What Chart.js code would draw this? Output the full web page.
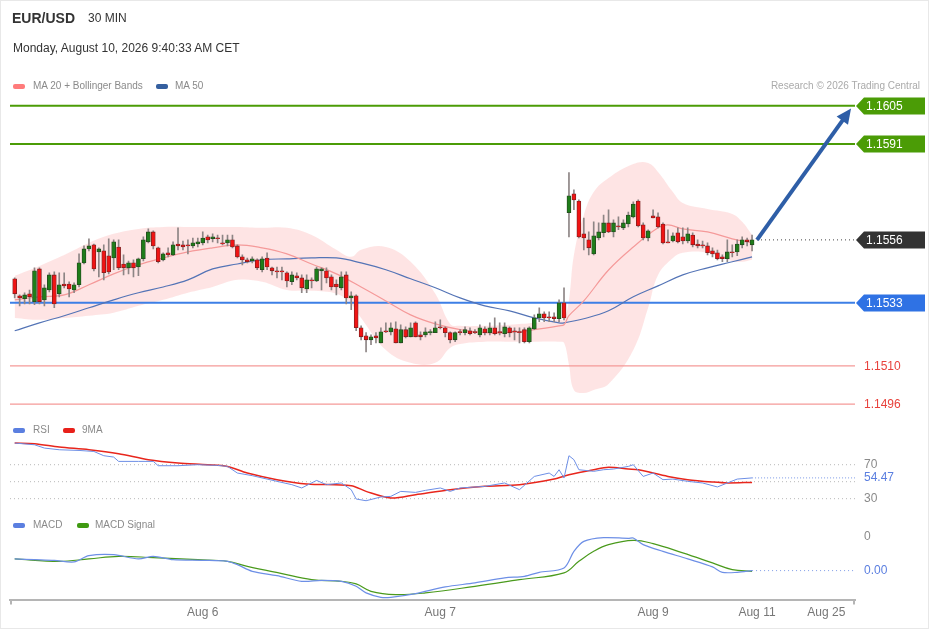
<!DOCTYPE html>
<html><head><meta charset="utf-8">
<script src="https://cdn.jsdelivr.net/npm/chart.js@4.4.1/dist/chart.umd.min.js"></script>
<style>
html,body{margin:0;padding:0;background:#fff;}
#wrap{position:relative;width:929px;height:629px;overflow:hidden;font-family:'Liberation Sans',Arial,sans-serif;}
#frame{position:absolute;left:0;top:0;width:929px;height:629px;box-sizing:border-box;border:1px solid #e8e8e8;pointer-events:none;}
canvas{position:absolute;left:0;top:0;}
.t{position:absolute;white-space:nowrap;line-height:1;}
.sw{position:absolute;width:12px;height:5px;border-radius:2px;}
.lg{position:absolute;white-space:nowrap;font-size:10px;color:#8a8a8a;line-height:1;}
</style></head>
<body><div id="wrap">
<canvas id="c" width="929" height="629"></canvas>
<div class="t" style="left:12px;top:11px;font-size:14px;font-weight:bold;color:#333;">EUR/USD</div>
<div class="t" style="left:88px;top:12px;font-size:12px;color:#333;">30 MIN</div>
<div class="t" style="left:13px;top:42px;font-size:12px;color:#333;">Monday, August 10, 2026 9:40:33 AM CET</div>
<div class="sw" style="left:13px;top:84px;background:#ff7b7b;"></div>
<div class="lg" style="left:33px;top:81px;">MA 20 + Bollinger Bands</div>
<div class="sw" style="left:156px;top:84px;background:#355f9f;"></div>
<div class="lg" style="left:175px;top:81px;">MA 50</div>
<div class="lg" style="right:9px;top:81px;color:#aaa;">Research © 2026 Trading Central</div>
<div class="sw" style="left:13px;top:428px;background:#5b7fe0;"></div>
<div class="lg" style="left:33px;top:425px;">RSI</div>
<div class="sw" style="left:63px;top:428px;background:#e8201a;"></div>
<div class="lg" style="left:82px;top:425px;">9MA</div>
<div class="sw" style="left:13px;top:523px;background:#5b7fe0;"></div>
<div class="lg" style="left:33px;top:520px;">MACD</div>
<div class="sw" style="left:77px;top:523px;background:#3f9a12;"></div>
<div class="lg" style="left:95px;top:520px;">MACD Signal</div>
<div id="frame"></div>
</div>
<script>
// ---- candle data (30 min bars, index 0..149) ----
const opens=[1.15418,1.15356,1.15345,1.15363,1.15334,1.15454,1.15341,1.15377,1.15432,1.15363,
1.15399,1.15399,1.15377,1.15396,1.15476,1.15527,1.15542,1.15516,1.15520,1.15502,
1.15494,1.15534,1.15472,1.15458,1.15476,1.15461,1.15491,1.15553,1.15589,1.15531,
1.15487,1.15513,1.15505,1.15545,1.15542,1.15542,1.15538,1.15545,1.15549,1.15571,
1.15564,1.15567,1.15549,1.15549,1.15560,1.15538,1.15498,1.15487,1.15483,1.15487,
1.15451,1.15494,1.15458,1.15447,1.15447,1.15440,1.15407,1.15429,1.15421,1.15381,
1.15414,1.15410,1.15447,1.15447,1.15425,1.15399,1.15385,1.15432,1.15348,1.15356,
1.15239,1.15210,1.15195,1.15210,1.15184,1.15228,1.15224,1.15235,1.15184,1.15232,
1.15206,1.15257,1.15213,1.15213,1.15221,1.15221,1.15242,1.15239,1.15221,1.15195,
1.15224,1.15221,1.15228,1.15224,1.15213,1.15235,1.15221,1.15239,1.15224,1.15217,
1.15239,1.15228,1.15224,1.15232,1.15188,1.15235,1.15275,1.15290,1.15279,1.15279,
1.15272,1.15330,1.15659,1.15728,1.15702,1.15582,1.15560,1.15509,1.15567,1.15586,
1.15622,1.15589,1.15611,1.15604,1.15618,1.15644,1.15702,1.15615,1.15567,1.15648,
1.15644,1.15618,1.15553,1.15556,1.15586,1.15571,1.15556,1.15578,1.15545,1.15542,
1.15538,1.15520,1.15513,1.15498,1.15491,1.15516,1.15516,1.15542,1.15560,1.15542];
const highs=[1.15421,1.15359,1.15367,1.15377,1.15458,1.15458,1.15396,1.15440,1.15443,1.15440,
1.15440,1.15407,1.15403,1.15509,1.15538,1.15564,1.15545,1.15531,1.15542,1.15564,
1.15560,1.15560,1.15505,1.15483,1.15487,1.15494,1.15571,1.15600,1.15593,1.15534,
1.15513,1.15531,1.15553,1.15604,1.15556,1.15560,1.15567,1.15567,1.15589,1.15578,
1.15582,1.15578,1.15578,1.15578,1.15578,1.15542,1.15505,1.15494,1.15498,1.15491,
1.15498,1.15513,1.15461,1.15461,1.15461,1.15443,1.15443,1.15440,1.15432,1.15432,
1.15421,1.15461,1.15458,1.15458,1.15432,1.15414,1.15443,1.15443,1.15370,1.15359,
1.15246,1.15221,1.15213,1.15221,1.15239,1.15257,1.15257,1.15261,1.15250,1.15242,
1.15257,1.15261,1.15224,1.15239,1.15232,1.15261,1.15268,1.15242,1.15224,1.15224,
1.15232,1.15242,1.15239,1.15232,1.15250,1.15242,1.15257,1.15275,1.15257,1.15257,
1.15242,1.15239,1.15239,1.15239,1.15242,1.15286,1.15312,1.15297,1.15297,1.15294,
1.15341,1.15385,1.15806,1.15743,1.15706,1.15640,1.15589,1.15626,1.15622,1.15651,
1.15670,1.15633,1.15644,1.15633,1.15662,1.15699,1.15706,1.15622,1.15597,1.15670,
1.15659,1.15622,1.15597,1.15586,1.15604,1.15604,1.15604,1.15586,1.15560,1.15556,
1.15549,1.15531,1.15523,1.15505,1.15560,1.15542,1.15560,1.15571,1.15567,1.15578];
const lows=[1.15348,1.15319,1.15326,1.15326,1.15323,1.15326,1.15319,1.15370,1.15312,1.15352,
1.15385,1.15352,1.15367,1.15388,1.15472,1.15520,1.15447,1.15425,1.15414,1.15436,
1.15451,1.15451,1.15432,1.15436,1.15425,1.15429,1.15483,1.15549,1.15527,1.15476,
1.15483,1.15498,1.15502,1.15523,1.15523,1.15509,1.15531,1.15534,1.15542,1.15549,
1.15553,1.15549,1.15542,1.15538,1.15531,1.15494,1.15469,1.15476,1.15476,1.15451,
1.15443,1.15451,1.15432,1.15421,1.15414,1.15388,1.15396,1.15414,1.15367,1.15367,
1.15385,1.15407,1.15377,1.15403,1.15377,1.15359,1.15377,1.15326,1.15305,1.15228,
1.15195,1.15151,1.15177,1.15184,1.15184,1.15221,1.15213,1.15184,1.15184,1.15202,
1.15206,1.15206,1.15195,1.15206,1.15213,1.15221,1.15235,1.15206,1.15184,1.15188,
1.15213,1.15213,1.15213,1.15217,1.15206,1.15213,1.15213,1.15213,1.15213,1.15206,
1.15206,1.15195,1.15184,1.15184,1.15184,1.15232,1.15261,1.15261,1.15261,1.15261,
1.15261,1.15268,1.15571,1.15670,1.15567,1.15523,1.15505,1.15505,1.15560,1.15571,
1.15586,1.15571,1.15597,1.15597,1.15607,1.15640,1.15607,1.15560,1.15556,1.15640,
1.15604,1.15545,1.15549,1.15553,1.15549,1.15545,1.15549,1.15534,1.15531,1.15531,
1.15505,1.15498,1.15487,1.15480,1.15480,1.15498,1.15502,1.15531,1.15538,1.15520];
const closes=[1.15363,1.15348,1.15359,1.15352,1.15447,1.15334,1.15385,1.15432,1.15326,1.15396,
1.15392,1.15381,1.15396,1.15476,1.15527,1.15538,1.15454,1.15527,1.15440,1.15443,
1.15553,1.15458,1.15458,1.15476,1.15458,1.15491,1.15560,1.15589,1.15538,1.15480,
1.15509,1.15505,1.15542,1.15538,1.15534,1.15538,1.15549,1.15553,1.15567,1.15560,
1.15571,1.15564,1.15545,1.15560,1.15534,1.15498,1.15487,1.15480,1.15491,1.15458,
1.15491,1.15461,1.15447,1.15443,1.15443,1.15410,1.15432,1.15421,1.15385,1.15414,
1.15410,1.15454,1.15454,1.15421,1.15388,1.15388,1.15425,1.15348,1.15356,1.15239,
1.15206,1.15195,1.15206,1.15202,1.15224,1.15224,1.15239,1.15184,1.15232,1.15206,
1.15239,1.15206,1.15206,1.15224,1.15224,1.15239,1.15239,1.15221,1.15195,1.15221,
1.15221,1.15232,1.15217,1.15221,1.15239,1.15221,1.15239,1.15217,1.15221,1.15242,
1.15221,1.15224,1.15221,1.15188,1.15239,1.15275,1.15290,1.15275,1.15275,1.15272,
1.15330,1.15275,1.15721,1.15706,1.15571,1.15567,1.15531,1.15575,1.15589,1.15622,
1.15589,1.15622,1.15607,1.15622,1.15651,1.15691,1.15611,1.15567,1.15593,1.15640,
1.15607,1.15549,1.15549,1.15575,1.15553,1.15556,1.15582,1.15542,1.15538,1.15538,
1.15513,1.15509,1.15491,1.15491,1.15516,1.15513,1.15545,1.15560,1.15553,1.15560];

// ---- overlays ----
const bandIdx=[0,5,10,15,20,25,30,35,40,45,50,55,60,65,68,70,75,80,85,88,90,95,100,105,110,111,112,113,115,117,120,125,128,130,133,135,140,145,147,149];
const bandUpper=[1.15429,1.15465,1.15505,1.15549,1.15582,1.15600,1.15607,1.15607,1.15607,1.15607,1.15604,1.15604,1.15578,1.15524,1.15498,1.15524,1.15534,1.15480,1.15363,1.15253,1.15246,1.15246,1.15250,1.15257,1.15268,1.15268,1.15341,1.15505,1.15651,1.15735,1.15786,1.15837,1.15841,1.15808,1.15735,1.15695,1.15673,1.15655,1.15626,1.15578];
const bandLower=[1.15275,1.15268,1.15275,1.15283,1.15294,1.15319,1.15341,1.15367,1.15388,1.15414,1.15407,1.15377,1.15374,1.15363,1.15326,1.15275,1.15158,1.15111,1.15111,1.15166,1.15180,1.15188,1.15188,1.15188,1.15188,1.15184,1.15104,1.15012,1.15001,1.15012,1.15034,1.15158,1.15312,1.15432,1.15494,1.15513,1.15513,1.15483,1.15480,1.15487];
const ma20Idx=[0,5,10,15,20,25,30,35,40,45,50,55,60,65,70,75,80,85,90,95,100,105,110,111,112,115,120,125,130,132,135,140,145,149];
const ma20Val=[1.15341,1.15352,1.15359,1.15396,1.15436,1.15469,1.15494,1.15516,1.15531,1.15542,1.15531,1.15509,1.15472,1.15436,1.15388,1.15337,1.15286,1.15253,1.15232,1.15221,1.15221,1.15232,1.15246,1.15250,1.15283,1.15337,1.15450,1.15534,1.15604,1.15615,1.15600,1.15589,1.15564,1.15549];
const ma50Idx=[0,5,10,15,20,25,30,35,40,45,50,55,60,65,70,75,80,85,90,95,100,105,110,111,115,120,125,130,135,140,145,149];
const ma50Val=[1.15228,1.15257,1.15283,1.15312,1.15341,1.15367,1.15388,1.15414,1.15454,1.15472,1.15487,1.15491,1.15494,1.15494,1.15476,1.15451,1.15418,1.15385,1.15348,1.15319,1.15301,1.15275,1.15257,1.15257,1.15272,1.15301,1.15352,1.15392,1.15432,1.15458,1.15480,1.15498];

// ---- levels ----
const levels=[1.1605,1.1591,1.1556,1.1533,1.1510,1.1496];
const arrowFrom=[150,1.1556];
const arrowTo=[169,1.1604];
const lastIdx=149;

// ---- RSI ----
const rsiIdx=[0,4,6,9,13,16,18,20,21,25,28,29,33,37,41,43,45,48,51,53,56,58,61,63,66,68,69,71,74,76,78,81,83,86,88,90,95,99,102,105,108,109,110,111,112,113,114,117,119,121,124,125,127,129,131,133,136,139,142,144,146,149];
const rsiVal=[95.5,93.5,89.6,87.6,86.8,85.6,80.6,79.0,73.9,73.9,73.9,68.8,68.8,70,69.2,68,60.2,57.1,53.1,50.4,46.5,42.6,51.5,46.5,48.5,40.6,29.6,27.6,32,32.7,38.6,37.4,39.8,42.6,38.6,42.6,44.5,48.5,40.6,56.2,60.2,56.2,64.1,54.3,80.6,75.9,64.1,62.2,64.1,64.9,68,70,56.2,60.2,52.4,53.1,50.4,48.5,43.8,48.5,53.1,54.47];
const rsiMaIdx=[0,4,9,15,21,27,33,39,43,47,53,59,68,71,76,81,88,95,102,109,112,117,120,124,126,132,136,141,144,149];
const rsiMaVal=[95.5,94.7,90.8,87.6,82.9,75.9,72,70,68,60.2,52.4,47.3,45.3,38.6,30.8,34.7,40.6,44.5,46.5,53.2,58.2,64.1,66.9,64.9,64.1,56.2,52.4,49.6,48.5,49.2];
const rsiGuides=[70,50,30];
const rsiTickLabels=[70,30];

// ---- MACD ----
const macdIdx=[0,4,8,12,15,20,25,28,32,38,43,45,48,53,58,62,66,69,71,74,76,81,87,93,99,103,106,111,113,115,119,124,125,127,131,136,141,143,146,149];
const macdVal=[-0.000223,-0.00023,-0.000237,-0.000253,-0.00019,-0.00018,-0.000223,-0.000197,-0.00023,-0.000237,-0.000247,-0.00028,-0.000347,-0.00039,-0.000447,-0.000437,-0.000447,-0.000497,-0.000563,-0.000607,-0.000607,-0.00057,-0.000503,-0.000463,-0.000413,-0.000397,-0.000357,-0.000313,-0.000147,-0.000047,-0.00001,-0.000017,-0.000013,-0.00008,-0.000147,-0.000223,-0.000303,-0.000357,-0.000357,-0.00034];
const sigIdx=[0,9,15,21,28,37,43,47,54,60,66,69,72,77,83,93,102,111,114,117,120,125,129,135,141,145,149];
const sigVal=[-0.000223,-0.000247,-0.000223,-0.000197,-0.00021,-0.00023,-0.000247,-0.000297,-0.00037,-0.00043,-0.000447,-0.000473,-0.000547,-0.00058,-0.000563,-0.000497,-0.00043,-0.000363,-0.000247,-0.000147,-0.00008,-0.000037,-0.00007,-0.000163,-0.000263,-0.00033,-0.000347];
const macdTickLabels=[0];

// ---- x axis ----
const tickIdx=[38,86,129,150,164];
const tickLabels=['Aug 6','Aug 7','Aug 9','Aug 11','Aug 25'];

// ---------------- build ----------------
const X_MIN=-0.95, X_MAX=169.8;
const pts=(ix,vals)=>ix.map((v,i)=>({x:v,y:vals[i]}));
const hline=(v)=>[{x:X_MIN,y:v},{x:X_MAX,y:v}];
const up=closes.map((c,i)=>c>=opens[i]);
const levelStyle=[
 {c:'#4b9c06',w:2},{c:'#4b9c06',w:2},null,{c:'#3d7fe6',w:2},{c:'#f59a98',w:1.2},{c:'#f59a98',w:1.2}
];
Chart.defaults.font.family="'Liberation Sans', Arial, sans-serif";

const ds=[];
ds.push({type:'line',label:'bbU',data:pts(bandIdx,bandUpper),yAxisID:'y',borderWidth:0,borderColor:'rgba(0,0,0,0)',pointRadius:0,tension:0.4,fill:'+1',backgroundColor:'rgba(253,206,206,0.55)',order:20});
ds.push({type:'line',label:'bbL',data:pts(bandIdx,bandLower),yAxisID:'y',borderWidth:0,borderColor:'rgba(0,0,0,0)',pointRadius:0,tension:0.4,fill:false,order:20});
levels.forEach((v,k)=>{
  const s=levelStyle[k];
  if(s) ds.push({type:'line',data:hline(v),yAxisID:'y',borderColor:s.c,borderWidth:s.w,pointRadius:0,fill:false,order:15});
});
ds.push({type:'line',data:[{x:arrowFrom[0],y:closes[lastIdx]},{x:X_MAX,y:closes[lastIdx]}],yAxisID:'y',borderColor:'#444',borderWidth:1,borderDash:[1,3],pointRadius:0,fill:false,order:15});
ds.push({type:'line',label:'ma20',data:pts(ma20Idx,ma20Val),yAxisID:'y',borderColor:'#f59a9a',borderWidth:1.2,pointRadius:0,tension:0.4,fill:false,order:12});
ds.push({type:'line',label:'ma50',data:pts(ma50Idx,ma50Val),yAxisID:'y',borderColor:'#5474b6',borderWidth:1.2,pointRadius:0,tension:0.4,fill:false,order:12});
ds.push({type:'bar',label:'wick',data:lows.map((l,i)=>({x:i,y:[l,highs[i]]})),yAxisID:'y',barThickness:1,grouped:false,backgroundColor:'#8d8585',order:6});
ds.push({type:'bar',label:'body',data:opens.map((o,i)=>({x:i,y:[o,closes[i]]})),yAxisID:'y',barThickness:4,grouped:false,minBarLength:1,
  backgroundColor:up.map(u=>u?'#1f7d1a':'#f01414'),borderColor:up.map(u=>u?'#24471f':'#7a2020'),borderWidth:0.8,borderSkipped:false,order:5});
// RSI
rsiGuides.forEach(v=>ds.push({type:'line',data:hline(v),yAxisID:'yr',borderColor:'#b8b8b8',borderWidth:1,borderDash:[1,3],pointRadius:0,fill:false,order:15}));
ds.push({type:'line',data:[{x:lastIdx,y:rsiVal[rsiVal.length-1]},{x:X_MAX,y:rsiVal[rsiVal.length-1]}],yAxisID:'yr',borderColor:'#7d9ae6',borderWidth:1,borderDash:[1,2],pointRadius:0,fill:false,order:15});
ds.push({type:'line',label:'9MA',data:pts(rsiMaIdx,rsiMaVal),yAxisID:'yr',borderColor:'#e8261c',borderWidth:1.5,pointRadius:0,tension:0.3,fill:false,order:10});
ds.push({type:'line',label:'RSI',data:pts(rsiIdx,rsiVal),yAxisID:'yr',borderColor:'#6d8fe6',borderWidth:1,pointRadius:0,tension:0,fill:false,order:9});
// MACD
ds.push({type:'line',data:[{x:lastIdx,y:macdVal[macdVal.length-1]},{x:X_MAX,y:macdVal[macdVal.length-1]}],yAxisID:'ym',borderColor:'#7d9ae6',borderWidth:1,borderDash:[1,3],pointRadius:0,fill:false,order:15});
ds.push({type:'line',label:'Signal',data:pts(sigIdx,sigVal),yAxisID:'ym',borderColor:'#4a9a1c',borderWidth:1.2,pointRadius:0,tension:0.4,fill:false,order:10});
ds.push({type:'line',label:'MACD',data:pts(macdIdx,macdVal),yAxisID:'ym',borderColor:'#6d8fe6',borderWidth:1.2,pointRadius:0,tension:0.3,fill:false,order:9});

const overlay={
  id:'overlay',
  afterDraw(chart){
    const {ctx,chartArea:a,scales}=chart;
    const x=scales.x,y=scales.y,yr=scales.yr,ym=scales.ym;
    ctx.save();
    // axis end ticks
    ctx.strokeStyle='#b5b5b5';ctx.lineWidth=2;
    [a.left+1,a.right-1].forEach(px=>{ctx.beginPath();ctx.moveTo(px,a.bottom);ctx.lineTo(px,a.bottom+5);ctx.stroke();});
    // arrow
    const x0=x.getPixelForValue(arrowFrom[0]),y0=y.getPixelForValue(arrowFrom[1]);
    const x1=x.getPixelForValue(arrowTo[0]),y1=y.getPixelForValue(arrowTo[1]);
    const ang=Math.atan2(y1-y0,x1-x0),hl=15,hw=7;
    const bx=x1-hl*Math.cos(ang),by=y1-hl*Math.sin(ang);
    ctx.strokeStyle='#2e5ea7';ctx.fillStyle='#2e5ea7';ctx.lineWidth=4;ctx.lineCap='butt';
    ctx.beginPath();ctx.moveTo(x0,y0);ctx.lineTo(bx+2*Math.cos(ang),by+2*Math.sin(ang));ctx.stroke();
    ctx.beginPath();ctx.moveTo(x1,y1);
    ctx.lineTo(bx+hw*Math.sin(ang),by-hw*Math.cos(ang));
    ctx.lineTo(bx-hw*Math.sin(ang),by+hw*Math.cos(ang));
    ctx.closePath();ctx.fill();
    // tags
    const tagColors=['#4b9c06','#4b9c06','#333333','#2f72e4',null,null];
    ctx.textBaseline='middle';
    levels.forEach((v,k)=>{
      const py=Math.round(y.getPixelForValue(v));
      const txt=v.toFixed(4);
      if(tagColors[k]){
        ctx.fillStyle=tagColors[k];
        ctx.beginPath();ctx.moveTo(a.right+1,py);ctx.lineTo(a.right+9,py-8.5);ctx.lineTo(925,py-8.5);ctx.lineTo(925,py+8.5);ctx.lineTo(a.right+9,py+8.5);ctx.closePath();ctx.fill();
        ctx.fillStyle='#fff';ctx.font="12px 'Liberation Sans', Arial";
        ctx.fillText(txt,a.right+11,py+0.5);
      } else {
        ctx.fillStyle='#e8423c';ctx.font="12px 'Liberation Sans', Arial";
        ctx.fillText(txt,a.right+9,py+0.5);
      }
    });
    // RSI labels
    ctx.font="12px 'Liberation Sans', Arial";
    ctx.fillStyle='#8a8a8a';
    rsiTickLabels.forEach(v=>ctx.fillText(String(v),a.right+9,yr.getPixelForValue(v)));
    const lr=rsiVal[rsiVal.length-1];
    ctx.fillStyle='#5b7fe0';ctx.fillText(lr.toFixed(2),a.right+9,yr.getPixelForValue(lr));
    // MACD labels
    ctx.fillStyle='#8a8a8a';
    macdTickLabels.forEach(v=>ctx.fillText(String(v),a.right+9,ym.getPixelForValue(v)));
    const lm=macdVal[macdVal.length-1];
    ctx.fillStyle='#5b7fe0';ctx.fillText((Math.round(lm*100)/100+0).toFixed(2),a.right+9,ym.getPixelForValue(lm));
    ctx.restore();
  }
};

new Chart(document.getElementById('c'),{
  type:'bar',
  data:{datasets:ds},
  options:{
    responsive:false,animation:false,events:[],
    layout:{padding:{left:10,right:74,top:100,bottom:3}},
    plugins:{legend:{display:false},tooltip:{enabled:false}},
    scales:{
      x:{type:'linear',min:X_MIN,max:X_MAX,offset:false,
        grid:{display:false,drawTicks:false},
        border:{display:true,color:'#b5b5b5',width:2},
        afterBuildTicks:(s)=>{s.ticks=tickIdx.map(v=>({value:v}));},
        ticks:{autoSkip:false,maxRotation:0,padding:6,color:'#777',font:{size:12},callback:(v,i)=>tickLabels[i]}},
      y:{display:false,min:1.1424613,max:1.1607095},
      yr:{display:false,min:-88.82,max:499.41},
      ym:{display:false,min:-0.00063,max:0.00437}
    }
  },
  plugins:[overlay]
});
</script>
</body></html>
